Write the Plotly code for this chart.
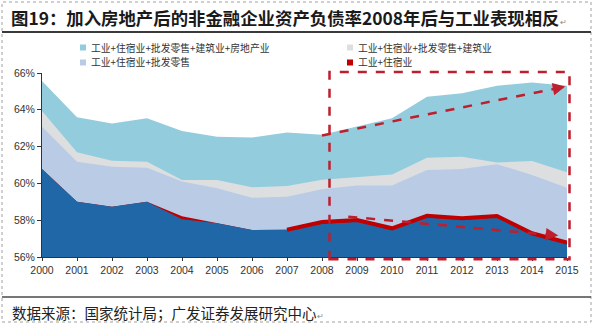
import plotly.graph_objects as go

years = list(range(2000, 2016))
tick_labels = [str(y) for y in years]

names = ["工业+住宿业+批发零售+建筑业+房地产业", "工业+住宿业+批发零售+建筑业",
         "工业+住宿业+批发零售", "工业+住宿业"]

# 工业+住宿业+批发零售+建筑业+房地产业
s_all = [65.57, 63.59, 63.25, 63.54, 62.85, 62.54, 62.49, 62.76, 62.65, 63.08, 63.54, 64.71, 64.90, 65.31, 65.49, 65.31]
# 工业+住宿业+批发零售+建筑业
s_bld = [63.93, 61.69, 61.23, 61.18, 60.18, 60.18, 59.79, 59.86, 60.20, 60.36, 60.49, 61.40, 61.45, 61.13, 61.22, 60.60]
# 工业+住宿业+批发零售
s_whl = [63.08, 61.18, 60.91, 60.85, 60.10, 59.73, 59.22, 59.28, 59.68, 59.88, 59.88, 60.73, 60.78, 61.04, 60.46, 59.77]
# 工业+住宿业
s_acc = [60.78, 59.00, 58.73, 59.00, 58.22, 57.86, 57.47, 57.48, 57.90, 58.01, 57.56, 58.24, 58.10, 58.23, 57.29, 56.78]
# 工业 (dark base area)
s_ind = [60.78, 59.00, 58.73, 59.00, 58.05, 57.83, 57.47, 57.48, 57.81, 57.92, 57.48, 58.15, 58.02, 58.15, 57.20, 56.70]

c_all = "#93CDDD"
c_bld = "#DCDEE0"
c_whl = "#B9CBE5"
c_acc = "#C00000"
c_ind = "#1F67A6"
c_dash = "#BE1E2D"

# plot-area pixel geometry
L, R, T, B = 42, 27, 73, 68
W, H = 594, 325
PW, PH = W - L - R, H - T - B


def px(x):
    return (x - L) / PW


def py(y):
    return (H - B - y) / PH


fig = go.Figure()
for vals, col, nm in [(s_all, c_all, names[0]), (s_bld, c_bld, names[1]),
                      (s_whl, c_whl, names[2]), (s_acc, c_acc, names[3]),
                      (s_ind, c_ind, "工业")]:
    fig.add_trace(go.Scatter(x=years, y=vals, mode="lines", fill="tozeroy",
                             fillcolor=col, line=dict(width=0, color=col),
                             name=nm, showlegend=False, hoverinfo="skip"))

# highlighted 工业+住宿业 line after 2007
fig.add_trace(go.Scatter(x=years[7:], y=s_acc[7:], mode="lines",
                         line=dict(width=4, color=c_acc), showlegend=False,
                         hoverinfo="skip"))

shapes = []
# outer dotted border
shapes.append(dict(type="rect", xref="paper", yref="paper", x0=px(2), x1=px(591),
                   y0=py(322), y1=py(2), line=dict(color="#A0A0A0", width=1, dash="dot"),
                   layer="below"))
# title rule
shapes.append(dict(type="line", xref="paper", yref="paper", x0=px(2), x1=px(591),
                   y0=py(32), y1=py(32), line=dict(color="#3A3A3A", width=2)))
# source rule
shapes.append(dict(type="line", xref="paper", yref="paper", x0=px(2), x1=px(591),
                   y0=py(297), y1=py(297), line=dict(color="#4A4A4A", width=1.5)))
# dashed highlight rectangle
shapes.append(dict(type="rect", xref="paper", yref="paper", x0=px(329.5), x1=px(569.5),
                   y0=py(259.3), y1=py(72), line=dict(color=c_dash, width=2.5, dash="dash")))
# dashed trend lines
shapes.append(dict(type="line", xref="x", yref="y", x0=2008.0, y0=62.6, x1=2014.85, y1=65.22,
                   line=dict(color=c_dash, width=2.5, dash="dash")))
shapes.append(dict(type="line", xref="x", yref="y", x0=2008.75, y0=58.19, x1=2014.65, y1=57.18,
                   line=dict(color=c_dash, width=2.5, dash="dash")))

# legend swatches
leg_pos = [(83, 47.5), (350, 47.5), (83, 62.5), (350, 62.5)]
leg_cols = [c_all, c_bld, c_whl, c_acc]
for (lx, ly), col in zip(leg_pos, leg_cols):
    shapes.append(dict(type="rect", xref="paper", yref="paper", x0=px(lx - 3), x1=px(lx + 3),
                       y0=py(ly + 3), y1=py(ly - 3), line=dict(width=0), fillcolor=col))

annotations = []
for (lx, ly), nm in zip(leg_pos, names):
    annotations.append(dict(xref="paper", yref="paper", x=px(lx + 6), y=py(ly), text=nm,
                            showarrow=False, xanchor="left", yanchor="middle",
                            font=dict(family="Noto Sans CJK SC", size=9.8, color="#333333")))

annotations.append(dict(xref="paper", yref="paper", x=px(9), y=py(17),
                        text="<b>图19：加入房地产后的非金融企业资产负债率2008年后与工业表现相反</b>"
                             "<span style='font-size:8px;color:#888'>↵</span>",
                        showarrow=False, xanchor="left", yanchor="middle",
                        font=dict(family="Noto Sans CJK SC", size=17.4, color="#1A1A1A")))
annotations.append(dict(xref="paper", yref="paper", x=px(10), y=py(312),
                        text="数据来源：国家统计局；广发证券发展研究中心"
                             "<span style='font-size:8px;color:#888'>↵</span>",
                        showarrow=False, xanchor="left", yanchor="middle",
                        font=dict(family="Noto Sans CJK SC", size=14.5, color="#222222")))

# arrow heads
annotations.append(dict(xref="x", yref="y", x=2014.95, y=65.26, ax=-10, ay=2, text="",
                        showarrow=True, arrowhead=2, arrowsize=1, arrowwidth=2.5,
                        arrowcolor=c_dash))
annotations.append(dict(xref="x", yref="y", x=2014.75, y=57.17, ax=-10, ay=-1, text="",
                        showarrow=True, arrowhead=2, arrowsize=1, arrowwidth=2.5,
                        arrowcolor=c_dash))

fig.update_layout(
    width=W, height=H,
    margin=dict(l=L, r=R, t=T, b=B),
    paper_bgcolor="white", plot_bgcolor="white",
    showlegend=False,
    shapes=shapes, annotations=annotations,
    xaxis=dict(range=[2000, 2015], tickvals=years, ticktext=tick_labels,
               showgrid=False, zeroline=False, showline=True, linecolor="#333333",
               linewidth=1, ticks="outside", ticklen=3, tickcolor="#333333",
               tickfont=dict(family="Liberation Sans", size=10.5, color="#333333")),
    yaxis=dict(range=[56, 66], dtick=2, ticksuffix="%", showgrid=False, zeroline=False,
               showline=True, linecolor="#333333", linewidth=1, ticks="outside",
               ticklen=4, tickcolor="#333333",
               tickfont=dict(family="Liberation Sans", size=10.5, color="#333333")),
)

fig.write_html("out.html")
